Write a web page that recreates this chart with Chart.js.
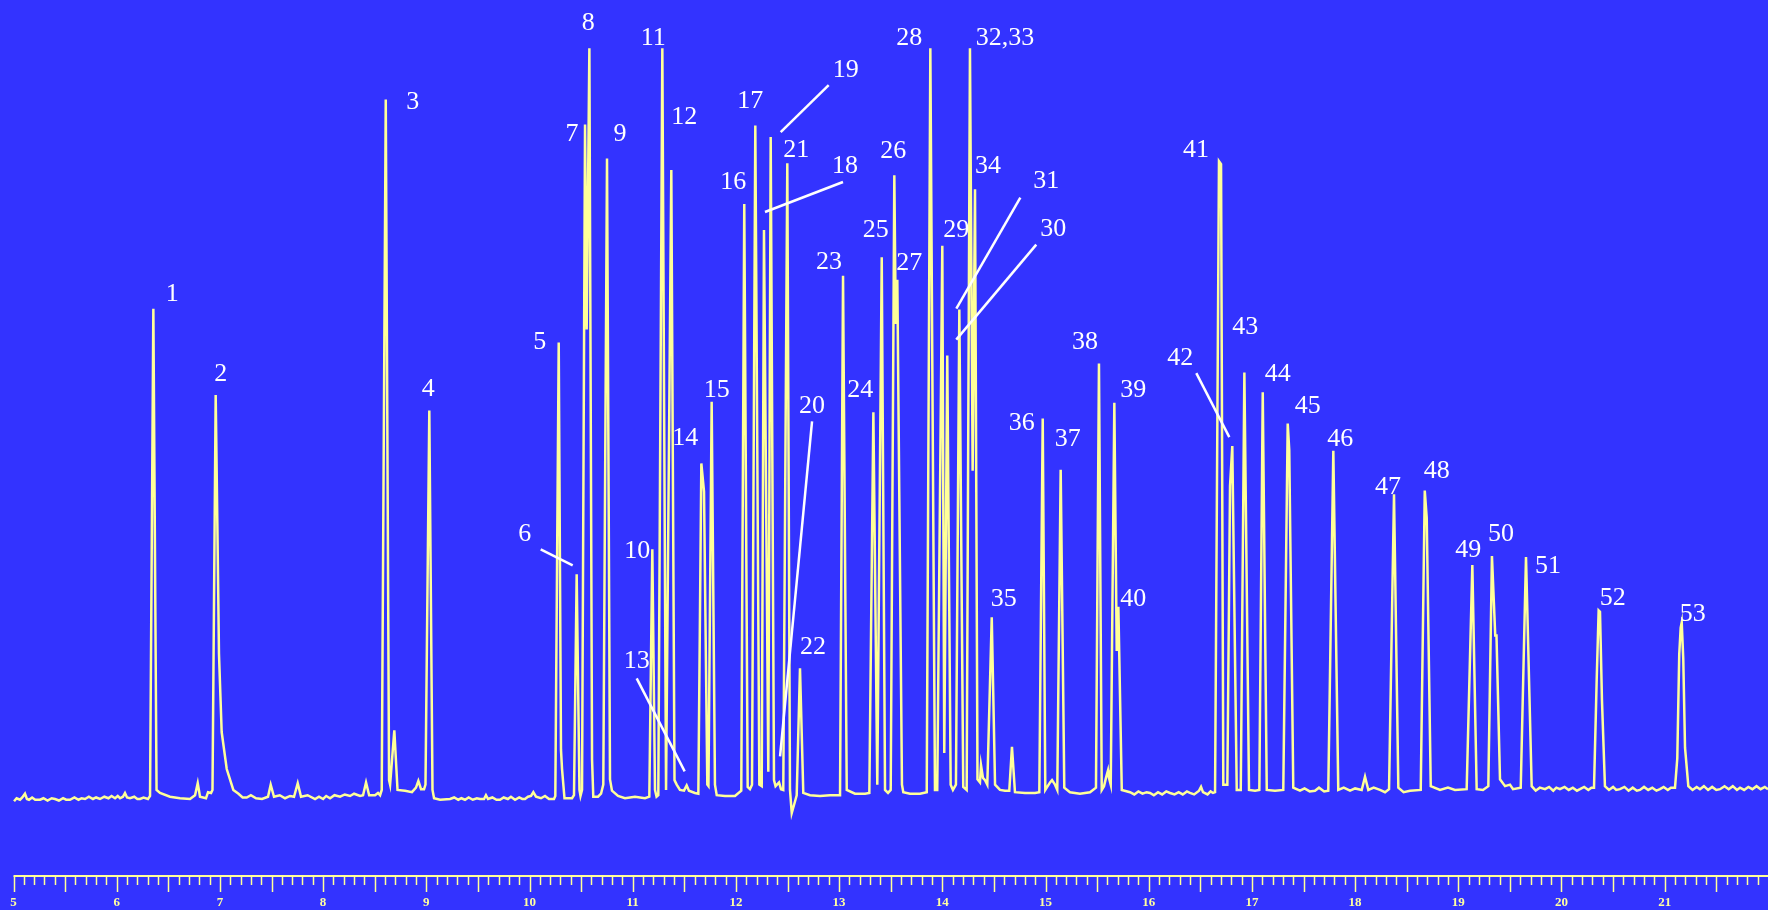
<!DOCTYPE html>
<html>
<head>
<meta charset="utf-8">
<script src="https://cdn.jsdelivr.net/npm/chart.js@4.4.1/dist/chart.umd.min.js"></script>
<style>
  html, body { margin: 0; padding: 0; background: #3333ff; overflow: hidden; }
  canvas { display: block; }
</style>
</head>
<body>
<canvas id="c" width="1768" height="910"></canvas>
<script>
// retention time (min) and detector signal (% of full scale)
var traceTime = [
  5.005,5.030,5.063,5.085,5.111,5.130,5.150,5.180,5.210,5.257,5.290,5.330,5.370,5.402,5.440,5.480,5.510,5.547,5.590,5.630,5.660,5.693,5.730,5.770,5.800,5.838,5.880,5.920,5.950,5.984,6.010,6.032,6.060,6.080,6.100,6.129,6.170,6.200,6.226,6.260,6.303,
  6.323,6.355,6.386,6.420,6.516,
  6.613,6.710,6.759,6.785,6.807,6.865,6.885,6.914,6.928,6.959,6.975,6.991,7.017,7.066,7.130,7.180,7.220,7.260,7.300,7.350,7.408,7.466,7.492,7.524,7.580,7.631,7.680,7.718,7.754,7.786,7.850,7.922,7.960,8.000,8.030,
  8.067,8.110,8.164,8.210,8.261,8.300,8.358,8.387,8.416,8.446,8.503,8.532,8.552,8.568,8.607,8.639,8.649,8.690,8.721,8.794,8.861,8.900,8.923,8.949,8.978,8.992,9.029,9.060,9.075,9.133,
  9.230,9.270,9.310,9.340,9.375,9.410,9.450,9.490,9.520,9.559,9.578,9.598,9.640,9.680,9.714,9.750,9.790,9.820,9.860,9.900,9.930,9.956,9.985,
  10.015,10.037,10.063,10.111,10.150,10.189,10.237,10.250,10.283,10.305,10.315,10.339,10.412,10.431,10.457,10.484,10.494,10.509,10.538,10.554,10.580,10.606,10.618,10.664,10.693,10.715,10.751,10.780,10.799,
  10.858,10.925,11.022,11.119,11.161,11.190,11.216,11.231,11.248,11.287,11.323,11.374,11.405,11.426,11.458,11.497,11.523,11.545,11.603,11.636,11.665,11.691,11.723,11.734,11.765,11.797,11.814,11.894,11.991,12.052,
  12.081,12.114,12.136,12.156,12.188,12.227,12.250,12.272,12.314,12.337,12.369,12.384,12.418,12.437,12.459,12.498,12.524,12.541,12.563,12.589,12.621,12.653,12.718,12.815,12.912,13.009,
  13.038,13.074,13.154,13.251,13.293,13.332,13.370,13.413,13.445,13.474,13.500,13.535,13.549,13.564,13.609,13.622,13.687,13.784,13.849,13.884,13.929,13.951,
  14.000,14.019,14.048,14.081,14.103,14.132,14.165,14.203,14.236,14.268,14.294,14.317,14.341,14.365,14.375,14.394,14.414,14.436,14.479,14.511,14.559,14.608,14.649,14.675,14.704,14.801,14.898,
  14.940,14.973,14.998,15.044,15.063,15.092,15.114,15.147,15.182,15.237,15.334,15.431,15.489,15.518,15.545,15.567,15.586,15.606,15.615,15.632,15.667,15.690,15.706,15.739,15.819,
  15.860,15.900,15.940,15.980,16.013,16.050,16.090,16.130,16.170,16.207,16.250,16.290,16.330,16.370,16.400,16.440,16.488,16.507,16.526,16.570,16.600,16.623,16.643,
  16.681,16.701,16.723,16.762,16.788,16.810,16.853,16.892,16.927,16.972,17.030,17.072,17.105,17.144,17.224,17.304,17.347,17.362,17.401,17.466,
  17.510,17.560,17.611,17.650,17.700,17.740,17.789,17.837,17.890,17.951,18.000,18.064,18.096,18.128,18.180,18.241,18.290,18.329,18.377,18.419,18.470,18.532,18.636,18.675,18.694,18.733,18.823,18.900,18.968,
  19.081,19.136,19.178,19.239,19.291,19.326,19.358,19.370,19.404,19.453,19.501,19.530,19.605,19.656,19.711,
  19.750,19.790,19.840,19.880,19.920,19.950,19.985,20.030,20.070,20.110,20.150,20.179,20.220,20.260,20.290,
  20.315,20.341,20.360,20.373,20.392,20.421,
  20.460,20.500,20.530,20.567,20.610,20.650,20.690,20.730,20.760,20.800,20.840,20.880,20.920,20.954,20.990,21.030,21.060,21.100,
  21.122,21.141,21.155,21.165,21.180,21.197,21.229,
  21.270,21.310,21.342,21.380,21.420,21.460,21.500,21.536,21.580,21.620,21.660,21.700,21.730,21.770,21.810,21.850,21.890,21.930,21.970,22.001
];
var traceSignal = [
  0.1,0.5,0.3,0.6,1.1,0.4,0.3,0.6,0.3,0.3,0.5,0.2,0.5,0.4,0.2,0.5,0.3,0.3,0.6,0.3,0.5,0.4,0.7,0.4,0.6,0.4,0.7,0.5,0.8,0.5,0.8,0.5,0.7,1.2,0.6,0.5,0.7,0.4,0.4,0.6,0.4,
  0.8,65.35,1.6,1.2,0.7,
  0.5,0.4,0.9,2.5,0.7,0.5,1.3,1.2,1.6,53.9,36.95,19.6,9.27,4.37,1.6,1.1,0.6,0.6,0.9,0.5,0.4,0.7,2.3,0.7,0.9,0.5,0.8,0.7,2.5,0.7,0.9,0.4,0.7,0.4,0.8,
  0.5,0.9,0.7,1.0,0.8,1.1,0.8,0.9,2.6,0.9,0.9,1.2,0.9,1.6,93.06,2.9,2.3,9.5,1.6,1.5,1.3,1.9,2.8,1.7,1.7,2.3,51.84,1.6,0.5,0.3,
  0.4,0.6,0.3,0.5,0.3,0.6,0.3,0.5,0.4,0.4,0.9,0.4,0.6,0.3,0.3,0.6,0.4,0.7,0.3,0.6,0.4,0.4,0.7,
  0.8,1.3,0.7,0.5,0.8,0.4,0.4,0.8,60.85,6.9,4.4,0.5,0.5,0.9,30.16,1.6,0.8,1.6,89.74,62.58,99.85,5.6,0.7,0.7,1.1,2.3,85.23,3.0,1.5,
  0.8,0.5,0.7,0.5,0.7,33.48,1.6,0.7,0.9,99.85,1.6,83.71,2.9,2.3,1.6,1.5,2.2,1.5,1.2,1.1,44.85,41.11,2.3,2.1,53.02,2.3,0.9,0.8,0.8,1.5,
  79.21,2.0,1.7,2.3,89.6,2.3,2.1,75.76,4.0,88.08,2.9,2.1,2.6,1.7,1.6,84.61,1.6,-1.46,-0.4,0.9,17.7,1.2,0.9,0.8,0.9,0.9,
  69.72,1.6,1.1,1.1,1.2,51.64,2.3,72.15,1.6,1.2,1.6,83.02,63.31,69.17,2.3,1.3,1.1,1.1,1.3,99.85,1.6,1.6,
  73.67,6.5,59.13,2.3,1.6,2.3,65.22,2.0,1.6,99.85,43.88,81.15,3.0,2.6,4.9,3.2,2.9,2.3,24.48,2.3,1.6,1.5,1.5,7.3,1.3,1.2,1.2,
  1.3,50.81,1.6,2.6,2.9,2.3,1.6,44.01,1.9,1.3,1.1,1.3,1.9,58.08,1.6,2.1,3.2,4.2,3.2,2.3,52.89,20.0,25.87,1.6,1.3,
  1.0,1.4,1.1,1.3,1.2,0.9,1.3,1.0,1.4,1.2,1.0,1.3,1.0,1.4,1.2,1.0,1.5,2.0,1.3,1.0,1.4,1.2,1.3,
  84.89,84.5,2.3,2.3,41.85,47.14,1.6,1.6,56.9,1.6,1.5,1.6,54.26,1.6,1.5,1.6,50.12,46.6,1.9,1.5,
  1.8,1.4,1.5,1.9,1.4,1.5,46.52,1.6,1.9,1.5,1.8,1.6,3.35,1.6,1.9,1.6,1.3,1.7,40.77,1.9,1.3,1.5,1.6,41.25,37.64,2.1,1.6,1.9,1.6,
  1.7,31.4,1.7,1.6,2.1,32.58,22.05,22.05,3.0,2.1,2.3,1.7,1.9,32.45,2.1,
  1.5,1.9,1.7,2.0,1.5,1.9,1.7,2.0,1.6,1.9,1.5,1.7,2.0,1.6,1.9,
  1.9,16.2,25.38,25.2,13.5,2.1,
  1.6,2.0,1.6,1.7,2.0,1.5,1.9,1.5,1.6,2.0,1.6,1.9,1.5,1.7,2.0,1.6,1.9,1.9,
  5.8,19.6,23.1,23.79,18.9,7.2,2.1,
  1.6,2.0,1.7,2.1,1.6,2.0,1.6,1.7,2.1,1.7,2.1,1.6,1.9,1.6,2.0,1.7,2.1,1.7,2.0,1.7
];

// numbered peaks: name, apex time, apex signal
var peakNames = ['1','2','3','4','5','6','7','8','9','10','11','12','13','14','15','16','17','18','19','20',
  '21','22','23','24','25','26','27','28','29','30','31','32,33','34','35','36','37','38','39','40',
  '41','42','43','44','45','46','47','48','49','50','51','52','53'];
var peakTimes = [6.355,6.959,8.607,9.029,10.283,10.457,10.538,10.580,10.751,11.190,11.287,11.374,11.523,11.665,11.765,12.081,12.188,12.272,12.337,12.418,
  12.498,12.621,13.038,13.332,13.413,13.535,13.564,13.884,14.000,14.048,14.165,14.268,14.317,14.479,14.973,15.147,15.518,15.667,15.706,
  16.681,16.810,16.927,17.105,17.347,17.789,18.377,18.675,19.136,19.326,19.656,20.360,21.165];
var peakHeights = [65.35,53.9,93.06,51.84,60.85,30.16,89.74,99.85,85.23,33.48,99.85,83.71,2.2,44.85,53.02,79.21,89.6,75.76,88.08,2.6,
  84.61,17.7,69.72,51.64,72.15,83.02,69.17,99.85,73.67,59.13,65.22,99.85,81.15,24.48,50.81,44.01,58.08,52.89,25.87,
  84.89,47.14,56.9,54.26,50.12,46.52,40.77,41.25,31.4,32.58,32.45,25.38,23.79];

// axis
var tickValues = [5,6,7,8,9,10,11,12,13,14,15,16,17,18,19,20,21];
var tickLabels = ['5','6','7','8','9','10','11','12','13','14','15','16','17','18','19','20','21'];

// label placement (pixel offset of the number from the peak apex)
var labelOffsets = [[19,-14],[5,-21],[27,3],[-1,-21],[-19,0],[-52,-40],[-13,10],[-1,-25],[13,-24],[-15,2],
  [-9,-10],[13,-53],[-50,-124],[-16,-25],[5,-12],[-11,-22],[-5,-24],[81,-64],[75,-67],[33,-376],
  [9,-13],[13,-21],[-14,-13],[-13,-22],[-6,-27],[-1,-24],[12,-17],[-21,-10],[14,-16],[106,-126],
  [87,-128],[35,-10],[13,-23],[12,-18],[-21,5],[7,-31],[-14,-21],[19,-13],[15,-8],
  [-23,-11],[-52,-88],[1,-45],[15,-18],[20,-17],[7,-12],[-6,-7],[12,-19],[-4,-15],[9,-22],[22,9],[14,-12],[11,-8]];
var leaders = {
  '6': [-36,-25,-4,-9], '13': [-50,-107,-2,-14], '18': [79,-48,1,-18], '19': [58,-52,10,-5],
  '20': [33,-361,1,-26], '30': [89,-111,9,-16], '31': [61,-112,-3,-1], '42': [-36,-73,-3,-9]
};

var bgPlugin = {
  id: 'bg',
  beforeDraw: function(chart) {
    var ctx = chart.ctx;
    ctx.save();
    ctx.fillStyle = '#3333ff';
    ctx.fillRect(0, 0, chart.width, chart.height);
    ctx.restore();
  }
};

var axisPlugin = {
  id: 'chromAxis',
  afterDraw: function(chart) {
    var ctx = chart.ctx, xs = chart.scales.x;
    var y0 = chart.chartArea.bottom;
    ctx.save();
    ctx.strokeStyle = '#ffff99';
    ctx.lineWidth = 2;
    ctx.beginPath();
    ctx.moveTo(xs.getPixelForValue(5), y0);
    ctx.lineTo(chart.width, y0);
    ctx.stroke();
    ctx.lineWidth = 1.5;
    for (var k = 0; k <= 170; k++) {
      var px = Math.round(xs.getPixelForValue(5 + k / 10)) + 0.5;
      if (px > chart.width) break;
      var len = (k % 5 == 0) ? 16 : 9;
      ctx.beginPath();
      ctx.moveTo(px, y0);
      ctx.lineTo(px, y0 + len);
      ctx.stroke();
    }
    ctx.fillStyle = '#ffffa0';
    ctx.font = 'bold 13px "Liberation Serif", serif';
    ctx.textAlign = 'center';
    ctx.textBaseline = 'middle';
    for (var i = 0; i < tickValues.length; i++) {
      ctx.fillText(tickLabels[i], xs.getPixelForValue(tickValues[i]), y0 + 27);
    }
    ctx.restore();
  }
};

var labelPlugin = {
  id: 'peakLabels',
  afterDatasetsDraw: function(chart) {
    var ctx = chart.ctx, xs = chart.scales.x, ys = chart.scales.y;
    ctx.save();
    ctx.fillStyle = '#ffffff';
    ctx.strokeStyle = '#ffffff';
    ctx.lineWidth = 2.5;
    ctx.font = '26px "Liberation Serif", serif';
    ctx.textAlign = 'center';
    ctx.textBaseline = 'middle';
    for (var i = 0; i < peakNames.length; i++) {
      var px = xs.getPixelForValue(peakTimes[i]);
      var py = ys.getPixelForValue(peakHeights[i]);
      var off = labelOffsets[i];
      ctx.fillText(peakNames[i], px + off[0], py + off[1]);
      var l = leaders[peakNames[i]];
      if (l) {
        ctx.beginPath();
        ctx.moveTo(px + l[0], py + l[1]);
        ctx.lineTo(px + l[2], py + l[3]);
        ctx.stroke();
      }
    }
    ctx.restore();
  }
};

var points = [];
for (var i = 0; i < traceTime.length; i++) {
  points.push({ x: traceTime[i], y: traceSignal[i] });
}

var ctx = document.getElementById('c').getContext('2d');
var chart = new Chart(ctx, {
  type: 'line',
  data: {
    datasets: [{
      data: points,
      borderColor: '#ffff99',
      borderWidth: 2.5,
      pointRadius: 0,
      tension: 0,
      fill: false
    }]
  },
  options: {
    responsive: false,
    animation: false,
    layout: { padding: { left: 0, right: 0, top: 0, bottom: 34 } },
    scales: {
      x: { type: 'linear', min: 4.869, max: 22.001, display: false },
      y: { min: -9.8, max: 106.23, display: false }
    },
    plugins: { legend: { display: false }, tooltip: { enabled: false } }
  },
  plugins: [bgPlugin, axisPlugin, labelPlugin]
});
</script>
</body>
</html>
